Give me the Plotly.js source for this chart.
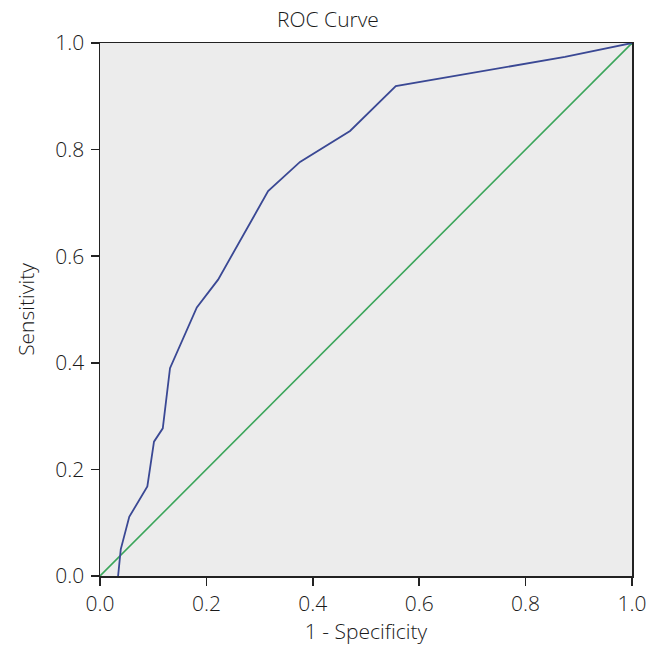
<!DOCTYPE html>
<html>
<head>
<meta charset="utf-8">
<script src="https://cdn.plot.ly/plotly-3.0.1.min.js"></script>
<style>html,body{margin:0;padding:0;background:#fff;}#chart{width:656px;height:649px;}</style>
</head>
<body>
<div id="chart"></div>
<script>
const rocX = [0.034, 0.039, 0.055, 0.089, 0.1015, 0.118, 0.1316, 0.182, 0.222, 0.316, 0.376, 0.47, 0.556, 0.874, 1.0];
const rocY = [0.0, 0.05, 0.111, 0.168, 0.252, 0.277, 0.39, 0.504, 0.556, 0.722, 0.777, 0.835, 0.919, 0.974, 1.0];
const refX = [0, 1];
const refY = [0, 1];
const tickVals = [0, 0.2, 0.4, 0.6, 0.8, 1.0];
const tickText = ["0.0", "0.2", "0.4", "0.6", "0.8", "1.0"];

const font = {family: "Open Sans, Noto Sans, sans-serif", color: "#1a1a1a", weight: 300};

const traces = [
  {x: refX, y: refY, mode: "lines", line: {color: "#3aa55a", width: 1.6}, hoverinfo: "skip"},
  {x: rocX, y: rocY, mode: "lines", line: {color: "#3a4894", width: 1.8}}
];

const axisCommon = {
  range: [0, 1],
  tickvals: tickVals,
  ticktext: tickText,
  ticks: "outside",
  ticklen: 8,
  tickwidth: 1.5,
  tickcolor: "#222",
  showline: true,
  linecolor: "#222",
  linewidth: 1.5,
  mirror: true,
  showgrid: false,
  zeroline: false,
  tickfont: Object.assign({size: 21}, font),
  fixedrange: true
};

const layout = {
  width: 656,
  height: 649,
  margin: {l: 100, r: 24, t: 43, b: 73},
  paper_bgcolor: "#ffffff",
  plot_bgcolor: "#ececec",
  showlegend: false,
  title: {text: "ROC Curve", font: Object.assign({size: 21}, font), x: 0.5, xanchor: "center", y: 0.969, yanchor: "middle"},
  xaxis: Object.assign({}, axisCommon, {title: {text: "1 - Specificity", font: Object.assign({size: 21}, font), standoff: 8}}),
  yaxis: Object.assign({}, axisCommon, {ticklabelstandoff: 2, title: {text: "Sensitivity", font: Object.assign({size: 21}, font), standoff: 15}})
};

Plotly.newPlot("chart", traces, layout, {displayModeBar: false, staticPlot: true});
</script>
</body>
</html>
